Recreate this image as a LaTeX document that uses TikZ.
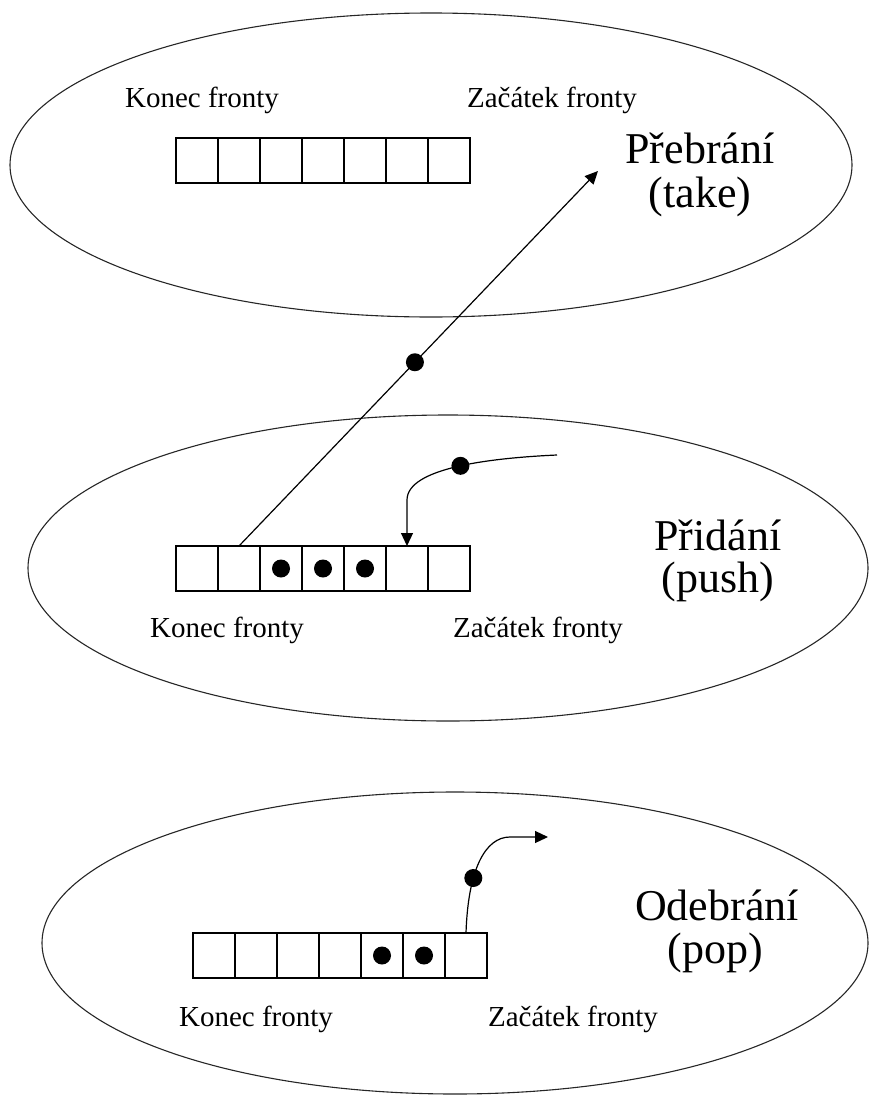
\documentclass[tikz,border=0pt]{standalone}
\usepackage{fontspec}
\setmainfont{Liberation Serif}
\usetikzlibrary{arrows.meta,calc}
\begin{document}
\begin{tikzpicture}[x=1pt,y=-1pt,
  ring/.style={draw=black!85, line width=1.1pt},
  cell/.style={draw, line width=1.2pt, minimum width=42pt, minimum height=45pt, inner sep=0pt, outer sep=0pt},
  ball/.style={circle, fill=black, inner sep=0pt, minimum size=18pt},
  small/.style={font=\fontsize{29}{29}\selectfont, anchor=base, inner sep=0pt},
  big/.style={font=\fontsize{44}{44}\selectfont, anchor=base, inner sep=0pt},
  conn/.style={line width=1.2pt, -{Triangle[length=13pt,width=12pt]}}]
\useasboundingbox (0,0) rectangle (870,1095);

% three operation areas
\draw[ring] (431,165) ellipse [x radius=421pt, y radius=152pt];
\draw[ring] (448,568) ellipse [x radius=420pt, y radius=153pt];
\draw[ring] (455,943) ellipse [x radius=413pt, y radius=151pt];

% queues of seven cells
\foreach \i in {1,...,7} {
  \node[cell] (t\i) at ({197+42*(\i-1)},160.5) {};
  \node[cell] (m\i) at ({197+42*(\i-1)},568.5) {};
  \node[cell] (b\i) at ({214+42*(\i-1)},955.5) {};
}

% stored items
\node[ball] (mi3) at (m3) {};
\node[ball] (mi4) at (m4) {};
\node[ball] (mi5) at (m5) {};
\node[ball] (bi5) at (b5) {};
\node[ball] (bi6) at (b6) {};

% queue end labels
\node[small] (tk) at (202,107) {Konec fronty};
\node[small] (tz) at (552,107) {Začátek fronty};
\node[small] (mk) at (227,637) {Konec fronty};
\node[small] (mz) at (538,637) {Začátek fronty};
\node[small] (bk) at (256,1026) {Konec fronty};
\node[small] (bz) at (573,1026) {Začátek fronty};

% operation names
\node[big] (take1) at (700,163) {Přebrání};
\node[big] (take2) at (700,207) {(take)};
\node[big] (push1) at (718,550) {Přidání};
\node[big] (push2) at (718,592) {(push)};
\node[big] (pop1) at (717,920) {Odebrání};
\node[big] (pop2) at (715,963) {(pop)};

% take: an item leaves the tail of the queue
\coordinate (takeTip) at (598,171);
\draw[conn] (m2.north) -- node[ball, pos=0.49] (carried) {} (takeTip);

% push: an item enters the queue
\coordinate (pushStart) at (557,455);
\draw[conn] (pushStart) .. controls (490,458) and (407,468) .. (407,500)
  node[ball, pos=0.48] (pushed) {} -- (m6.north);

% pop: an item leaves the head of the queue
\coordinate (popTip) at (548,837);
\draw[conn] (b7.north) .. controls (468,870) and (485,837) .. (510,837)
  node[ball, pos=0.35] (popped) {} -- (popTip);
\end{tikzpicture}
\end{document}
